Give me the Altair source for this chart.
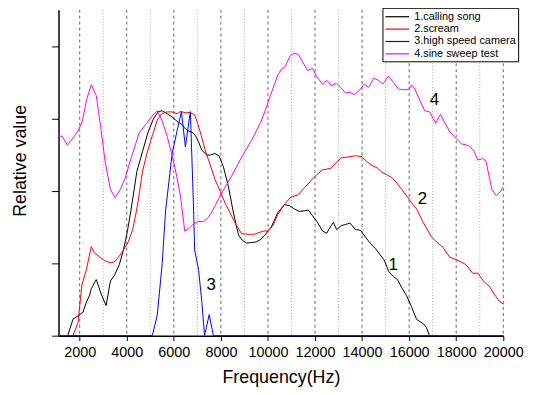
import altair as alt
import pandas as pd

FONT = "Liberation Sans"

series_names = ["1.calling song", "2.scream", "3.high speed camera", "4.sine sweep test"]
series_colors = ["#000000", "#ff0000", "#0000ff", "#ff00ff"]

calling_x = [1500, 1718, 2000, 2139, 2282, 2421, 2492, 2703, 2913, 3123, 3305, 3474, 3684, 3865,
             4034, 4176, 4429, 4667, 4905, 5128, 5339, 5507, 5718, 5928, 6139, 6350, 6491, 6631,
             6772, 6913, 7052, 7192, 7402, 7545, 7755, 7924, 8105, 8316, 8500, 8650, 8750, 8905,
             9087, 9300, 9508, 9700, 9861, 10139, 10421, 10703, 10913, 11124, 11334, 11544, 11713,
             11895, 12105, 12316, 12497, 12665, 12779, 12918, 13116, 13298, 13483, 13718, 13928,
             14139, 14350, 14560, 14770, 14940, 15124, 15335, 15503, 15684, 15895, 16105, 16316,
             16598, 16737, 16850]
calling_y = [0.02, 0.46, 0.58, 0.65, 0.92, 1.12, 1.30, 1.55, 1.15, 0.83, 1.51, 1.66, 1.96, 2.38,
             2.91, 3.45, 4.53, 5.08, 5.62, 5.98, 6.19, 6.21, 6.13, 6.04, 5.92, 5.83, 5.71, 5.65,
             5.62, 5.53, 5.35, 5.12, 4.99, 4.99, 5.03, 4.96, 4.67, 4.13, 3.50, 3.05, 2.78, 2.64,
             2.56, 2.57, 2.59, 2.66, 2.77, 3.00, 3.40, 3.62, 3.59, 3.50, 3.43, 3.45, 3.47,
             3.31, 3.13, 2.89, 2.83, 3.02, 3.13, 2.93, 3.04, 3.07, 3.11, 2.93, 2.91,
             2.73, 2.55, 2.41, 2.23, 2.09, 1.78, 1.63, 1.55, 1.33, 1.10, 0.79, 0.45,
             0.33, 0.22, 0.02]

scream_x = [1718, 1928, 2092, 2282, 2492, 2632, 2913, 3123, 3334, 3503, 3684, 3865, 4063, 4244,
            4387, 4484, 4667, 4876, 5100, 5297, 5507, 5718, 5928, 6139, 6282, 6491, 6702, 6884,
            7023, 7166, 7334, 7545, 7755, 7965, 8175, 8386, 8596, 8876, 9158, 9411, 9579, 9832,
            10000, 10210, 10421, 10703, 10981, 11263, 11613, 11966, 12316, 12665, 12918, 13116,
            13440, 13718, 14000, 14210, 14421, 14632, 14842, 15053, 15263, 15474, 15684, 15895,
            16105, 16316, 16598, 16947, 17158, 17440, 17718, 18072, 18421, 18703, 18914, 19192,
            19402, 19613, 19823, 20000]
scream_y = [0.00, 0.36, 1.40, 1.82, 2.46, 2.28, 2.14, 2.05, 2.01, 2.05, 2.20, 2.37, 2.59, 2.91,
            3.36, 3.72, 4.53, 5.08, 5.55, 5.96, 6.14, 6.18, 6.18, 6.13, 6.19, 6.16, 6.16, 6.10,
            5.84, 5.53, 5.12, 4.72, 4.31, 3.99, 3.67, 3.40, 3.12, 2.82, 2.80, 2.80, 2.84, 2.89,
            2.89, 3.04, 3.35, 3.63, 3.83, 3.88, 4.13, 4.38, 4.58, 4.62, 4.79, 4.91,
            4.94, 4.97, 4.94, 4.80, 4.70, 4.64, 4.51, 4.44, 4.37, 4.22, 4.04, 3.86,
            3.67, 3.50, 3.13, 2.73, 2.59, 2.44, 2.17, 2.08, 1.96, 1.72, 1.73, 1.48,
            1.37, 1.15, 0.96, 0.87]

camera_x = [1100, 5086, 5297, 5507, 5650, 5928, 6139, 6324, 6491, 6702, 6842, 6884, 7052, 7192,
            7305, 7503, 7684, 20000]
camera_y = [0.0, 0.0, 0.57, 2.00, 3.45, 5.03, 5.66, 6.19, 5.21, 6.19, 3.45, 2.37, 1.82, 0.92,
            0.0, 0.58, 0.0, 0.0]

sweep_x = [1120, 1255, 1482, 1718, 1928, 2097, 2295, 2492, 2703, 2884, 3082, 3305, 3503, 3726,
           3924, 4202, 4526, 4808, 5086, 5297, 5507, 5718, 5900, 6068, 6282, 6463, 6631, 6842,
           7052, 7263, 7473, 7642, 7755, 7965, 8244, 8526, 8737, 9018, 9297, 9440, 9718, 9928,
           10070, 10421, 10560, 10728, 10953, 11122, 11290, 11470, 11684, 11895, 12076, 12316,
           12498, 12695, 12920, 13116, 13298, 13483, 13677, 13904, 14098, 14283, 14492, 14703,
           14884, 15124, 15335, 15545, 15823, 16006, 16105, 16244, 16425, 16663, 16874, 17127,
           17326, 17507, 17718, 18000, 18210, 18421, 18560, 18771, 18914, 19124, 19263, 19516,
           19713, 19895, 19980]
sweep_y = [5.51, 5.51, 5.26, 5.46, 5.66, 5.89, 6.52, 6.93, 6.63, 5.80, 4.80, 4.04, 3.81, 4.04,
           4.34, 4.94, 5.60, 5.84, 6.07, 6.21, 5.93, 5.50, 5.05, 4.58, 3.86, 2.89, 2.95, 3.09,
           3.15, 3.15, 3.27, 3.45, 3.59, 3.86, 4.17, 4.49, 4.76, 5.08, 5.39, 5.57, 5.93, 6.30,
           6.57, 7.20, 7.35, 7.43, 7.74, 7.80, 7.77, 7.56, 7.32, 7.38, 7.15, 6.95,
           7.05, 6.91, 6.97, 6.84, 6.70, 6.72, 6.66, 6.79, 6.95, 6.86, 7.11, 7.05,
           6.95, 7.17, 6.99, 6.81, 6.79, 6.81, 6.93, 6.81, 6.54, 6.21, 6.18, 5.87,
           6.11, 5.89, 5.64, 5.44, 5.30, 5.27, 5.24, 5.08, 4.85, 4.89, 4.82, 4.04,
           3.86, 3.99, 4.10]

label_text = ["1", "2", "3", "4"]
label_x = [15318, 16568, 7587, 17074]
label_y = [1.96, 3.78, 1.39, 6.52]

x_ticks = list(range(2000, 20001, 1000))
major_grid = list(range(2000, 20001, 2000))
minor_grid = list(range(3000, 20000, 2000))
y_ticks = list(range(0, 10))

rows = []
for name, xs, ys in zip(series_names,
                        [calling_x, scream_x, camera_x, sweep_x],
                        [calling_y, scream_y, camera_y, sweep_y]):
    for xv, yv in zip(xs, ys):
        rows.append({"series": name, "freq": xv, "value": yv})
df = pd.DataFrame(rows)
labels_df = pd.DataFrame({"t": label_text, "freq": label_x, "value": label_y})
major_df = pd.DataFrame({"freq": major_grid})
minor_df = pd.DataFrame({"freq": minor_grid})

x_scale = alt.Scale(domain=[1100, 20000], nice=False, zero=False)
y_scale = alt.Scale(domain=[0, 9], nice=False)

x_axis = alt.Axis(
    values=x_ticks,
    format="d",
    labelExpr="datum.value % 2000 == 0 ? datum.label : ''",
    title="Frequency(Hz)",
    titleFont=FONT, titleFontSize=18, titleFontWeight="normal", titleColor="#000",
    titlePadding=10,
    labelFont=FONT, labelFontSize=14.5, labelColor="#000", labelPadding=5,
    labelFlush=False, labelOverlap=False,
    tickSize=5, tickColor="#000", domainColor="#000", domainWidth=1.5,
    grid=False,
)
y_axis = alt.Axis(
    values=y_ticks,
    labels=False,
    grid=False,
    title="Relative value",
    titleFont=FONT, titleFontSize=18, titleFontWeight="normal", titleColor="#000",
    titlePadding=22,
    titleY=152,
    tickSize=7, tickColor="#000", domainColor="#000", domainWidth=1.5,
)

major_rules = alt.Chart(major_df).mark_rule(color="#666666", strokeWidth=1, strokeDash=[3, 3]).encode(
    x=alt.X("freq:Q", scale=x_scale, axis=x_axis),
)
minor_rules = alt.Chart(minor_df).mark_rule(color="#aaaaaa", strokeWidth=1, strokeDash=[1, 2]).encode(
    x=alt.X("freq:Q", scale=x_scale),
)

lines = alt.Chart(df).mark_line(strokeWidth=1).encode(
    x=alt.X("freq:Q", scale=x_scale, axis=x_axis),
    y=alt.Y("value:Q", scale=y_scale, axis=y_axis),
    color=alt.Color(
        "series:N",
        scale=alt.Scale(domain=series_names, range=series_colors),
        legend=alt.Legend(
            orient="none", legendX=327, legendY=-2, title=None,
            symbolType="M-1,0L3,0", symbolSize=144, symbolStrokeWidth=1.2,
            labelFont=FONT, labelFontSize=11, labelColor="#000",
            padding=2, strokeColor="#000", fillColor="#ffffff",
            rowPadding=0.5, labelOffset=16, labelLimit=103,
        ),
    ),
    detail="series:N",
)

texts = alt.Chart(labels_df).mark_text(
    font=FONT, fontSize=17, color="#000", align="center", baseline="middle"
).encode(
    x=alt.X("freq:Q", scale=x_scale),
    y=alt.Y("value:Q", scale=y_scale),
    text="t:N",
)

chart = alt.layer(minor_rules, major_rules, lines, texts).properties(
    width=449, height=329,
    padding={"left": 51, "top": 0, "right": 30, "bottom": 50},
    autosize=alt.AutoSizeParams(type="none"),
    background="white",
).configure_view(stroke=None)

chart.save("out.html", embed_options={"renderer": "svg", "actions": False})
